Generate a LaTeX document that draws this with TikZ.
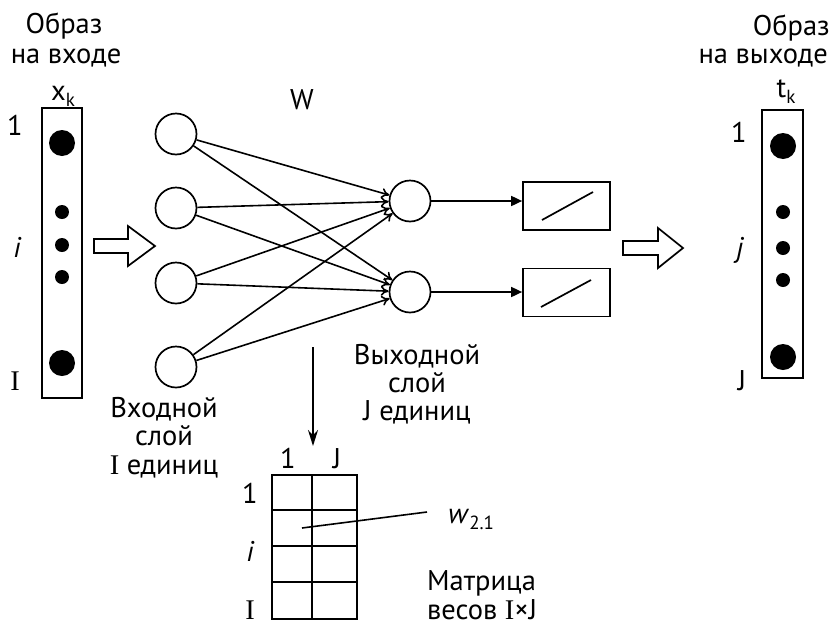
\documentclass[tikz,border=0pt]{standalone}
\usepackage{fontspec}
\setmainfont{PT Sans}
\newfontfamily\serifI{Liberation Serif}
\usetikzlibrary{arrows.meta}
\newcommand\capI{{\serifI I}}
\newcommand\subk[1]{\raisebox{-0.22em}{\fontsize{19}{19}\selectfont #1}}
\tikzset{
  lbl/.style={font=\fontsize{28.5}{27}\selectfont, inner sep=0pt, anchor=base},
  lblr/.style={lbl, anchor=base east},
  thick line/.style={line width=1.7pt},
  neuron/.style={circle, draw, line width=1.7pt, minimum size=41pt, inner sep=0pt},
  linbox/.style={draw, line width=1.7pt, minimum width=87pt, minimum height=48pt, inner sep=0pt},
  bigdot/.style={circle, fill=black, minimum size=26pt, inner sep=0pt},
  smalldot/.style={circle, fill=black, minimum size=14pt, inner sep=0pt},
  weight/.style={line width=1.6pt, -{To[length=8pt,width=10pt]}},
  feed/.style={line width=1.7pt, -{Triangle[length=11pt,width=10pt]}},
  hollow/.style={draw, line width=1.7pt, fill=white},
}
\begin{document}
\begin{tikzpicture}[x=1pt,y=-1pt]
\useasboundingbox (0,0) rectangle (832,627);

% ---- input pattern ----
\node[lbl] (inT1) at (64,33) {Образ};
\node[lbl] (inT2) at (66,63) {на входе};
\node[lbl] (xk) at (63,100) {x\subk{k}};
\node[draw, thick line, minimum width=40pt, minimum height=290pt, inner sep=0pt] (inbox) at (62,253) {};
\node[bigdot] (xd1) at (62,143) {};
\node[smalldot] (xd2) at (62,212) {};
\node[smalldot] (xd3) at (62,245) {};
\node[smalldot] (xd4) at (62,277) {};
\node[bigdot] (xd5) at (62,363) {};
\node[lbl] (il1) at (15,135) {1};
\node[lbl] (ili) at (17,257) {\itshape i};
\node[lbl] (ilI) at (15,390) {\capI};

% hollow arrow left
\draw[hollow] (94,239) -- (128,239) -- (128,226) -- (155,246) -- (128,266) -- (128,253) -- (94,253) -- cycle;

% ---- network ----
\node[lbl] (W) at (302,109) {W};
\node[neuron] (in1) at (176,134) {};
\node[neuron] (in2) at (176,208) {};
\node[neuron] (in3) at (176,283) {};
\node[neuron] (in4) at (176,367) {};
\node[neuron] (out1) at (410,201) {};
\node[neuron] (out2) at (410,292) {};
\foreach \i in {1,2,3,4}{
  \foreach \j in {1,2}{
    \draw[weight] (in\i) -- (out\j);
  }
}
\node[linbox] (b1) at (566.5,206) {};
\node[linbox] (b2) at (566.5,292.5) {};
\draw[thick line] (542,220) -- (593,192);
\draw[thick line] (541,307) -- (591,280);
\draw[feed] (out1.east) -- (out1.east -| b1.west);
\draw[feed] (out2.east) -- (out2.east -| b2.west);

% layer labels
\node[lbl] (inL1) at (164,417) {Входной};
\node[lbl] (inL2) at (164,445) {слой};
\node[lbl] (inL3) at (164,474) {\capI{} единиц};
\node[lbl] (outL1) at (417,364) {Выходной};
\node[lbl] (outL2) at (417,392) {слой};
\node[lbl] (outL3) at (417,420) {J единиц};

% ---- output pattern ----
\node[lblr] (outT1) at (830,35) {Образ};
\node[lblr] (outT2) at (828,63) {на выходе};
\node[lbl] (tk) at (786,97) {t\subk{k}};
\draw[hollow] (623,241) -- (658,241) -- (658,228) -- (683,248) -- (658,268) -- (658,255) -- (623,255) -- cycle;
\node[draw, thick line, minimum width=41pt, minimum height=268pt, inner sep=0pt] (outbox) at (782.5,244) {};
\node[bigdot] (td1) at (783,146) {};
\node[smalldot] (td2) at (783,212) {};
\node[smalldot] (td3) at (783,248) {};
\node[smalldot] (td4) at (783,280) {};
\node[bigdot] (td5) at (783,357) {};
\node[lbl] (ol1) at (739,142) {1};
\node[lbl] (olj) at (740,257) {\itshape j};
\node[lbl] (olJ) at (742,390) {J};

% ---- weight matrix ----
\coordinate (arrS) at (313,347);
\coordinate (arrE) at (313,446);
\draw[line width=1.7pt, -{Stealth[length=16pt,width=10pt]}] (arrS) -- (arrE);
\draw[thick line] (272,475) rectangle (357,619);
\draw[thick line] (312,475) -- (312,619);
\foreach \yy in {510,546,582}{ \draw[thick line] (272,\yy) -- (357,\yy); }
\node[lbl] (mc1) at (288,468) {1};
\node[lbl] (mcJ) at (337,468) {J};
\node[lbl] (mr1) at (250,503) {1};
\node[lbl] (mri) at (250,561) {\itshape i};
\node[lbl] (mrI) at (250,619) {\capI};
\coordinate (cell21) at (302,528);
\coordinate (wlead) at (427,512);
\draw[line width=1.6pt] (cell21) -- (wlead);
\node[lbl, anchor=base west] (w21) at (448,523) {\itshape w\/\subk{\upshape 2.1}};
\node[lbl, anchor=base west] (mt1) at (427,590) {Матрица};
\node[lbl, anchor=base west] (mt2) at (427,619) {весов \capI{}×J};
\end{tikzpicture}
\end{document}
